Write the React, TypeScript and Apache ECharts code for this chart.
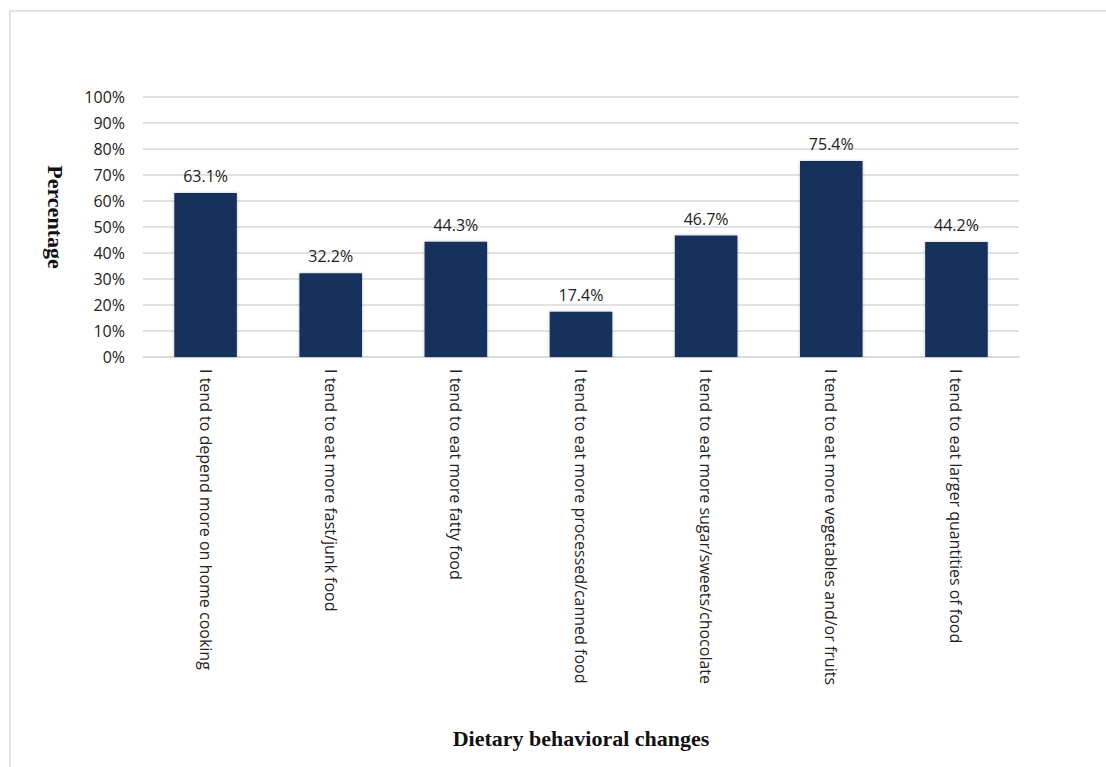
import React, { useEffect, useRef } from "react";
import * as echarts from "echarts";

const categories = [
  "I tend to depend more on home cooking",
  "I tend to eat more fast/junk food",
  "I tend to eat more fatty food",
  "I tend to eat more processed/canned food",
  "I tend to eat more sugar/sweets/chocolate",
  "I tend to eat more vegetables and/or fruits",
  "I tend to eat larger quantities of food",
];
const values = [63.1, 32.2, 44.3, 17.4, 46.7, 75.4, 44.2];
const yAxisTitle = "Percentage";
const xAxisTitle = "Dietary behavioral changes";

export default function App() {
  const ref = useRef<HTMLDivElement>(null);
  useEffect(() => {
    if (!ref.current) return;
    const chart = echarts.init(ref.current, null, { renderer: "svg" });
    chart.setOption({
      animation: false,
      backgroundColor: "#ffffff",
      graphic: [
        {
          type: "rect",
          shape: { x: 10, y: 11, width: 1110, height: 780 },
          style: { fill: "none", stroke: "#d9d9d9", lineWidth: 1.5 },
          silent: true,
        },
        {
          type: "text",
          x: 55,
          y: 217,
          rotation: -Math.PI / 2,
          style: {
            text: yAxisTitle,
            fontFamily: "Liberation Serif",
            fontWeight: "bold",
            fontSize: 22,
            fill: "#111111",
            align: "center",
            verticalAlign: "middle",
          },
          silent: true,
        },
      ],
      grid: { left: 143, right: 87, top: 97, bottom: 410 },
      xAxis: {
        type: "category",
        data: categories,
        axisTick: { show: false },
        axisLine: { lineStyle: { color: "#d9d9d9", width: 1.5 } },
        axisLabel: {
          interval: 0,
          rotate: -90,
          margin: 12,
          fontSize: 16,
          color: "#222222",
          fontFamily: "Open Sans",
        },
        name: xAxisTitle,
        nameLocation: "middle",
        nameGap: 370,
        nameTextStyle: {
          fontFamily: "Liberation Serif",
          fontWeight: "bold",
          fontSize: 22,
          color: "#111111",
        },
      },
      yAxis: {
        type: "value",
        min: 0,
        max: 100,
        interval: 10,
        axisLabel: {
          formatter: "{value}%",
          fontSize: 16,
          color: "#222222",
          margin: 18,
          fontFamily: "Open Sans",
        },
        splitLine: { lineStyle: { color: "#d9d9d9", width: 1.5 } },
        axisLine: { show: false },
        axisTick: { show: false },
      },
      series: [
        {
          type: "bar",
          data: values,
          barWidth: "50%",
          itemStyle: {
            color: "#14315c",
            shadowColor: "rgba(0,0,0,0.25)",
            shadowBlur: 3,
          },
          label: {
            show: true,
            position: "top",
            distance: 9,
            formatter: (p: any) => p.value.toFixed(1) + "%",
            fontSize: 16,
            color: "#222222",
            fontFamily: "Open Sans",
          },
        },
      ],
    });
    return () => chart.dispose();
  }, []);
  return (
    <div
      ref={ref}
      style={{ position: "absolute", left: 0, top: 0, width: 1106, height: 767 }}
    />
  );
}
